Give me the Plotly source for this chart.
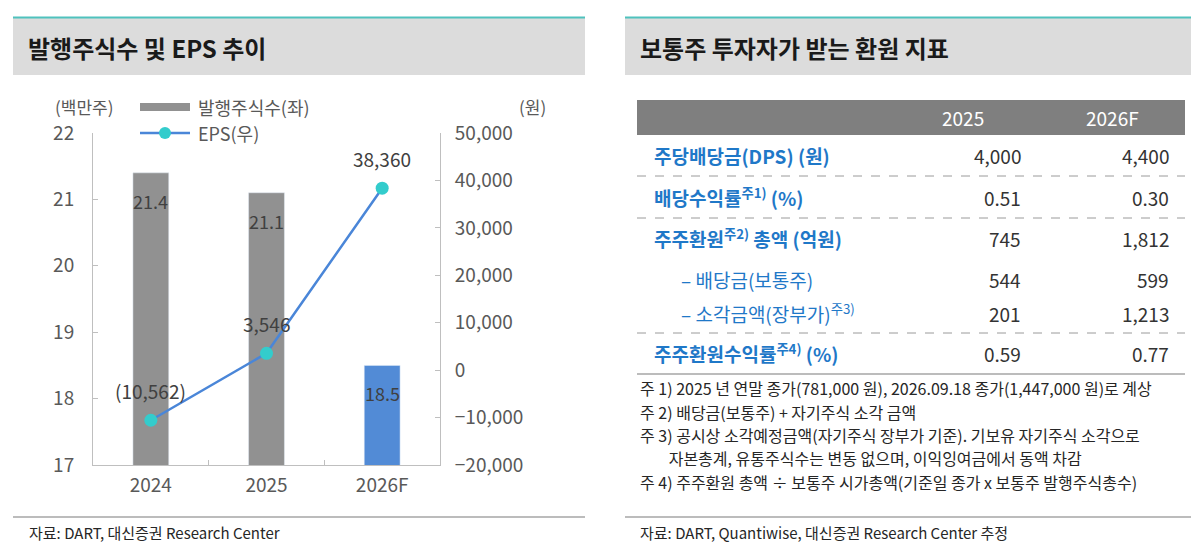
import plotly.graph_objects as go

# the page puts the figure 8px in from the top-left corner
OFF = 8
W, H = 1199 - OFF, 558 - OFF
FONT = "Noto Sans CJK KR"

# left chart data
years = ['2024', '2025', '2026F']
shares = [21.4, 21.1, 18.5]            # 발행주식수 (백만주)
eps = [-10562, 3546, 38360]            # EPS (원)
eps_text = ['(10,562)', '3,546', '38,360']
bar_colors = ['#919191', '#919191', '#528bd6']

# right table data
tbl_cols = ['2025', '2026F']
row_labels = [
    '주당배당금(DPS) (원)',
    '배당수익률<sup>주1)</sup> (%)',
    '주주환원<sup>주2)</sup> 총액 (억원)',
    '– 배당금(보통주)',
    '– 소각금액(장부가)<sup>주3)</sup>',
    '주주환원수익률<sup>주4)</sup> (%)',
]
row_sub = [False, False, False, True, True, False]
vals_2025 = ['4,000', '0.51', '745', '544', '201', '0.59']
vals_2026 = ['4,400', '0.30', '1,812', '599', '1,213', '0.77']
notes = [
    '주 1) 2025 년 연말 종가(781,000 원), 2026.09.18 종가(1,447,000 원)로 계상',
    '주 2) 배당금(보통주) + 자기주식 소각 금액',
    '주 3) 공시상 소각예정금액(자기주식 장부가 기준). 기보유 자기주식 소각으로',
    '        자본총계, 유통주식수는 변동 없으며, 이익잉여금에서 동액 차감',
    '주 4) 주주환원 총액 ÷ 보통주 시가총액(기준일 종가 x 보통주 발행주식총수)',
]


# screen pixel -> paper coords
def fx(px):
    return (px - OFF) / W


def fy(py):
    return 1 - (py - OFF) / H


annotations = []
shapes = []


def txt(x, y, s, size, color, anchor='left', bold=False):
    annotations.append(dict(
        xref='paper', yref='paper', x=fx(x), y=fy(y), text=('<b>%s</b>' % s) if bold else s,
        showarrow=False, xanchor=anchor, yanchor='middle',
        font=dict(family=FONT, size=size, color=color)))


def hline(x0, x1, y, color, width=1, dash='solid'):
    shapes.append(dict(type='line', xref='paper', yref='paper', x0=fx(x0), x1=fx(x1),
                       y0=fy(y), y1=fy(y), line=dict(color=color, width=width, dash=dash)))


def box(x0, x1, y0, y1, color):
    shapes.append(dict(type='rect', xref='paper', yref='paper', x0=fx(x0), x1=fx(x1),
                       y0=fy(y1), y1=fy(y0), fillcolor=color, line=dict(width=0), layer='below'))


fig = go.Figure()

fig.add_trace(go.Bar(
    x=years, y=shares, marker_color=bar_colors, width=0.31,
    hoverinfo='x+y', showlegend=False))

fig.add_trace(go.Scatter(
    x=years, y=eps, yaxis='y2', mode='lines+markers',
    line=dict(color='#4a86d8', width=2.5),
    marker=dict(size=13, color='#33cccc'),
    showlegend=False))

# bar value labels (category axis: annotation x is the category index)
for i, v in enumerate(shares):
    annotations.append(dict(xref='x', yref='y', x=i, y=v, text=f'{v:.1f}', showarrow=False,
                            yanchor='top', yshift=-13,
                            font=dict(family=FONT, size=18, color='#404040')))
# eps labels
for i, (v, t) in enumerate(zip(eps, eps_text)):
    annotations.append(dict(xref='x', yref='y2', x=i, y=v, text=t, showarrow=False,
                            yanchor='bottom', yshift=14,
                            font=dict(family=FONT, size=19, color='#404040')))

# panel headers
for x0, x1, title in [(13, 585, '발행주식수 및 EPS 추이'), (625, 1199, '보통주 투자자가 받는 환원 지표')]:
    box(x0, x1, 17, 75, '#dcdcdc')
    hline(x0, x1, 17.5, '#4fc2bd', 2)
    txt(x0 + 13, 47, title, 24, '#1a1a1a', bold=True)

# axis titles and legend
txt(84, 107, '(백만주)', 17, '#595959', 'center')
txt(532, 107, '(원)', 17, '#595959', 'center')
box(140, 190, 103, 111, '#919191')
txt(196, 107, '발행주식수(좌)', 18, '#595959')
hline(140, 190, 133, '#4a86d8', 2.5)
shapes.append(dict(type='circle', xref='paper', yref='paper', x0=fx(159), x1=fx(171),
                   y0=fy(139), y1=fy(127), fillcolor='#33cccc', line=dict(width=0)))
txt(196, 133, 'EPS(우)', 18, '#595959')

# table
box(637, 1185, 100, 135, '#7f7f7f')
txt(963, 117, tbl_cols[0], 19, 'white', 'center')
txt(1112, 117, tbl_cols[1], 19, 'white', 'center')
row_y = [156, 197, 238, 279, 313, 353]
for i, lab in enumerate(row_labels):
    y = row_y[i]
    txt(679 if row_sub[i] else 652, y, lab, 19, '#1f78c8', bold=not row_sub[i])
    txt(1023, y, vals_2025[i], 19, '#333333', 'right')
    txt(1171, y, vals_2026[i], 19, '#333333', 'right')
for y in [176, 218, 333]:
    hline(637, 1185, y, '#9a9a9a', 1, 'dash')
hline(637, 1185, 374, '#a6a6a6', 1.5)
note_y = [388, 412, 435, 458, 482]
for y, n in zip(note_y, notes):
    txt(638, y, n, 16, '#262626')

# sources
hline(13, 585, 517, '#a6a6a6', 1.5)
hline(625, 1199, 517, '#a6a6a6', 1.5)
txt(27, 532, '자료: DART, 대신증권 Research Center', 15, '#262626')
txt(638, 532, '자료: DART, Quantiwise, 대신증권 Research Center 추정', 15, '#262626')

axis_style = dict(showline=True, linecolor='#bfbfbf', linewidth=1, ticks='inside', ticklen=5,
                  tickcolor='#bfbfbf', showgrid=False, zeroline=False, automargin=False,
                  tickfont=dict(family=FONT, size=19, color='#595959'))

fig.update_layout(
    width=W, height=H, margin=dict(l=0, r=0, t=0, b=0),
    paper_bgcolor='white', plot_bgcolor='white',
    xaxis=dict(type='category', domain=[fx(93), fx(440)], anchor='y', tickson='boundaries',
               range=[-0.5, 2.5], ticklabelstandoff=3, **axis_style),
    yaxis=dict(domain=[fy(465), fy(133)], range=[17, 22], dtick=1,
               ticklabelstandoff=14, **axis_style),
    yaxis2=dict(overlaying='y', side='right', anchor='x', range=[-20000, 50000], dtick=10000,
                tickformat=',', ticklabelstandoff=10, **axis_style),
    annotations=annotations, shapes=shapes,
)

fig.write_html("out.html")
